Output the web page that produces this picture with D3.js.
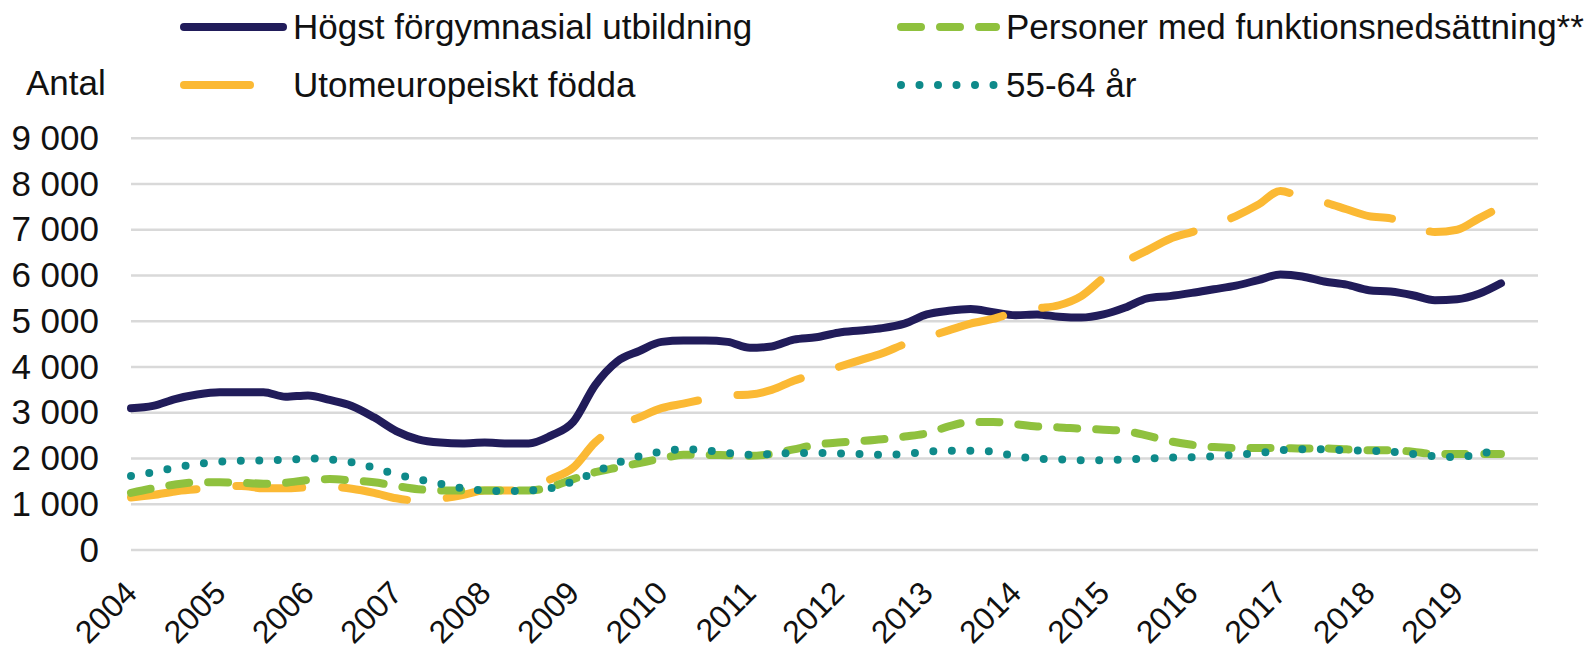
<!DOCTYPE html>
<html>
<head>
<meta charset="utf-8">
<script src="https://cdn.jsdelivr.net/npm/d3@7"></script>
<style>
  body { margin: 0; background: #fff; }
  text { font-family: "Liberation Sans", Arial, sans-serif; fill: #111; }
</style>
</head>
<body>
<div id="chart"></div>
<script>
// Chart values (quarterly readings, Jan 2004 - Jul 2019)
var yearLabels = ["2004", "2005", "2006", "2007", "2008", "2009", "2010", "2011",
  "2012", "2013", "2014", "2015", "2016", "2017", "2018", "2019"];
var yTicks = [0, 1000, 2000, 3000, 4000, 5000, 6000, 7000, 8000, 9000];

var hogst = [3100, 3150, 3300, 3400, 3450, 3450, 3450, 3350, 3380, 3280, 3150, 2900,
  2600, 2420, 2350, 2330, 2350, 2330, 2330, 2500, 2800, 3600, 4120, 4350,
  4550, 4580, 4580, 4550, 4420, 4450, 4600, 4650, 4750, 4800, 4850, 4950,
  5150, 5230, 5270, 5200, 5130, 5150, 5100, 5080, 5150, 5300, 5500, 5550,
  5620, 5700, 5780, 5900, 6020, 5980, 5870, 5800, 5680, 5650, 5570, 5460,
  5480, 5600, 5830];
var utom = [1150, 1200, 1280, 1330, 1380, 1400, 1350, 1350, 1370, 1380, 1340, 1250,
  1130, 1080, 1120, 1200, 1300, 1300, 1350, 1550, 1800, 2350, 2700, 2900,
  3100, 3200, 3300, 3380, 3400, 3500, 3700, 3850, 4000, 4150, 4300, 4500,
  4650, 4800, 4950, 5050, 5200, 5280, 5350, 5550, 5950, 6300, 6550, 6800,
  6950, 7100, 7300, 7550, 7850, 7700, 7600, 7450, 7300, 7250, 7100, 6950,
  7000, 7250, 7500];
var funk = [1250, 1350, 1430, 1480, 1480, 1470, 1450, 1470, 1530, 1550, 1520, 1480,
  1400, 1330, 1300, 1300, 1300, 1300, 1300, 1380, 1550, 1700, 1800, 1900,
  2000, 2080, 2080, 2070, 2060, 2100, 2200, 2300, 2350, 2380, 2420, 2480,
  2550, 2700, 2800, 2800, 2750, 2700, 2680, 2650, 2630, 2600, 2500, 2380,
  2300, 2250, 2230, 2230, 2230, 2220, 2220, 2200, 2180, 2180, 2150, 2100,
  2100, 2100, 2100];
var aldre = [1620, 1700, 1800, 1880, 1930, 1950, 1960, 1970, 2000, 1980, 1920, 1800,
  1650, 1550, 1450, 1350, 1300, 1290, 1300, 1350, 1500, 1700, 1900, 2050,
  2150, 2200, 2180, 2120, 2080, 2100, 2120, 2120, 2110, 2100, 2080, 2100,
  2150, 2170, 2170, 2150, 2050, 2000, 1980, 1960, 1960, 1980, 2000, 2020,
  2030, 2050, 2080, 2120, 2180, 2200, 2200, 2180, 2170, 2150, 2100, 2050,
  2030, 2100, 2200];

// quarterly category dates
var periods = d3.timeMonth.every(3).range(new Date(2004, 0, 1), new Date(2019, 7, 1));

var series = [
  { name: "Högst förgymnasial utbildning", values: hogst, color: "#211c5a", dash: null },
  { name: "Utomeuropeiskt födda", values: utom, color: "#fbb934", dash: "66 40" },
  { name: "Personer med funktionsnedsättning**", values: funk, color: "#8fc13e", dash: "20 19" },
  { name: "55-64 år", values: aldre, color: "#0e8a8a", dash: "0 18.5" }
];

var svgWidth = 1594;
var svgHeight = 650;
var margin = { top: 138.3, right: 56, bottom: 100, left: 131 };
var width = svgWidth - margin.left - margin.right;
var height = svgHeight - margin.top - margin.bottom;

var svg = d3.select("#chart")
  .append("svg")
  .attr("width", svgWidth)
  .attr("height", svgHeight);

var chartGroup = svg.append("g")
  .attr("transform", `translate(${margin.left}, ${margin.top})`);

var xScale = d3.scaleTime()
  .domain([new Date(2004, 0, 1), new Date(2019, 11, 1)])
  .range([0, width]);

var yScale = d3.scaleLinear()
  .domain([0, 9000])
  .range([height, 0]);

// gridlines
chartGroup.append("g")
  .selectAll("line")
  .data(yTicks)
  .enter()
  .append("line")
  .attr("x1", 0)
  .attr("x2", width)
  .attr("y1", d => yScale(d))
  .attr("y2", d => yScale(d))
  .attr("stroke", "#d9d9d9")
  .attr("stroke-width", 2.5);

// y axis labels
var fmt = d => d3.format(",")(d).replace(/,/g, " ");
var leftAxis = d3.axisLeft(yScale).tickValues(yTicks).tickFormat(fmt).tickSize(0).tickPadding(32);
var yAxis = chartGroup.append("g").call(leftAxis);
yAxis.select(".domain").remove();
yAxis.selectAll("text")
  .style("font-size", "35px")
  .style("font-family", "'Liberation Sans', Arial, sans-serif")
  .attr("fill", "#111");

// x axis labels, rotated
var yearDates = yearLabels.map(y => new Date(+y, 0, 1));
chartGroup.append("g")
  .selectAll("text")
  .data(yearDates)
  .enter()
  .append("text")
  .attr("transform", d => `translate(${xScale(d)}, ${height + 37}) rotate(-45)`)
  .attr("text-anchor", "end")
  .attr("dy", "0.35em")
  .style("font-size", "32px")
  .text(d => d3.timeFormat("%Y")(d));

// lines
var line = d3.line()
  .x((d, i) => xScale(periods[i]))
  .y(d => yScale(d))
  .curve(d3.curveMonotoneX);

series.forEach(s => {
  chartGroup.append("path")
    .datum(s.values)
    .attr("fill", "none")
    .attr("stroke", s.color)
    .attr("stroke-width", 8)
    .attr("stroke-linecap", "round")
    .attr("stroke-linejoin", "round")
    .attr("stroke-dasharray", s.dash)
    .attr("d", line);
});

// "Antal" title
svg.append("text")
  .attr("x", 26)
  .attr("y", 95)
  .style("font-size", "35px")
  .text("Antal");

// legend
var legendPos = [
  { x: 180, y: 27 },
  { x: 180, y: 85 },
  { x: 897, y: 27 },
  { x: 897, y: 85 }
];
var legendLen = [107, 107, 103, 103];

series.forEach((s, i) => {
  var p = legendPos[i];
  svg.append("line")
    .attr("x1", p.x + 4)
    .attr("x2", p.x + legendLen[i] - 4)
    .attr("y1", p.y)
    .attr("y2", p.y)
    .attr("stroke", s.color)
    .attr("stroke-width", 8)
    .attr("stroke-linecap", "round")
    .attr("stroke-dasharray", s.dash);
  svg.append("text")
    .attr("x", p.x + legendLen[i] + 6)
    .attr("y", p.y + 12)
    .style("font-size", "35px")
    .text(s.name);
});
</script>
</body>
</html>
